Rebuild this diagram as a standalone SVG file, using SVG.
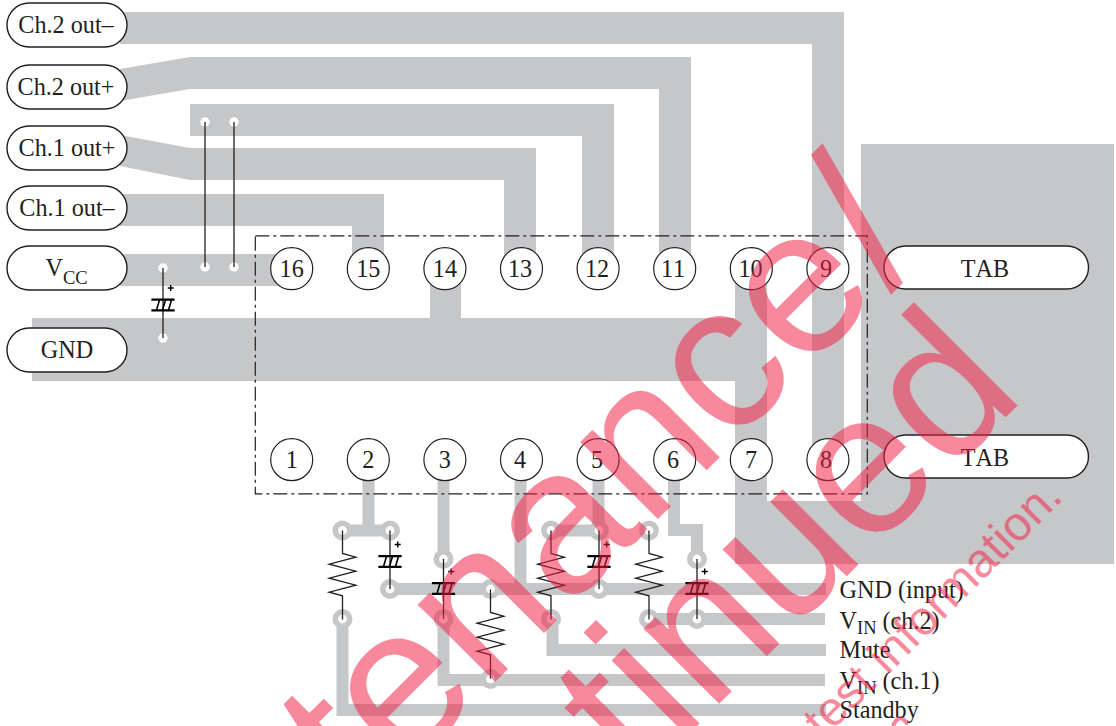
<svg xmlns="http://www.w3.org/2000/svg" width="1116" height="726" viewBox="0 0 1116 726">
<style>
.t{font-family:"Liberation Serif","Times New Roman",serif;font-size:24.2px;fill:#231f20;font-kerning:none}
.m{text-anchor:middle}
.s{font-size:18.5px}
.tr{fill:#c6c7c9;stroke:none}
.w{fill:none;stroke:#c6c7c9;stroke-width:12}
.pad{fill:#fff;stroke:#c6c7c9;stroke-width:5.6}
.h{fill:#fff}
.l{fill:none;stroke:#231f20;stroke-width:1.3}
.pl{fill:#fff;stroke:#231f20;stroke-width:1.4}
.pin{fill:#fff;stroke:#231f20;stroke-width:1.2}
.wm{font-family:"Liberation Sans",Arial,sans-serif;fill:#f21e45;text-anchor:end}
</style>
<defs>
<g id="res"><path class="l" d="M0 0V23L13.300 26.700L-13.300 33.700L13.300 40.700L-13.300 47.700L13.300 54.700L-13.300 61.700L0 65.300V89"/></g>
<g id="cap"><path d="M-11.600-5.300H11.600M-11.600 5.300H11.600" fill="none" stroke="#000" stroke-width="2.300"/><path d="M-6.500 5L-3.500-5M-.5 5L2.500-5M5.500 5L8.500-5" fill="none" stroke="#000" stroke-width="1.600"/><path d="M4.700-17H10.700M7.700-20V-14" fill="none" stroke="#000" stroke-width="1.400"/></g>
<circle id="pad" class="pad" r="7.200"/>
</defs>
<g id="connectors">
<path class="tr" d="M120 12H844V460H812V44H120Z"/>
<path class="tr" d="M120 69L190 57H691V269H659V89H190L120 101Z"/>
<path class="tr" d="M190 104H614V269H582V136H190Z"/>
<path class="tr" d="M120 135L190 148H536V269H504V180H190L120 166Z"/>
<path class="tr" d="M120 194H384V269H352V226H120Z"/>
<path class="tr" d="M120 254H292V286H120Z"/>
<path class="tr" d="M32 318H430V269H461V318H735V269H767V501H861V144H1114V564H735V381H32Z"/>
<path class="w" d="M368.500 470V530.500M342.500 530.500H390M443.500 470V559M520.500 470V589M598.500 470V530.500M551 530.500H599M674 470V530H697V559"/>
<path class="w" d="M390 589H826M649 619H825M552.500 619V650H826M443.500 619V680H825M342.500 619V710H826"/>
<use href="#pad" x="342.500" y="530.500"/><use href="#pad" x="390" y="530.500"/><use href="#pad" x="443.500" y="559"/><use href="#pad" x="551" y="530.500"/><use href="#pad" x="599" y="530.500"/><use href="#pad" x="649" y="530.500"/><use href="#pad" x="697" y="559"/>
<use href="#pad" x="390" y="589"/><use href="#pad" x="490.500" y="589"/><use href="#pad" x="599" y="589"/>
<use href="#pad" x="342.500" y="619"/><use href="#pad" x="443.500" y="619"/><use href="#pad" x="551" y="619"/><use href="#pad" x="649" y="619"/><use href="#pad" x="697" y="619"/><use href="#pad" x="490.500" y="679"/>
<g class="h"><circle cx="205" cy="122" r="4.700"/><circle cx="234" cy="122" r="4.700"/><circle cx="205" cy="267" r="4.700"/><circle cx="234" cy="267" r="4.700"/><circle cx="163" cy="268" r="4.700"/><circle cx="163" cy="338" r="4.700"/></g>
<path class="l" d="M205 122V267M234 122V267M163 268V338M390 530.500V589M443.500 559V619M599 530.500V589M697 559V619"/>
<use href="#res" x="342.500" y="530.500"/><use href="#res" x="551" y="530.500"/><use href="#res" x="649" y="530.500"/><use href="#res" x="490.500" y="589.500"/>
<use href="#cap" x="163" y="305"/><use href="#cap" x="390" y="561.500"/><use href="#cap" x="443.500" y="588.500"/><use href="#cap" x="599" y="561.500"/><use href="#cap" x="697" y="588.500"/>
<rect x="255.300" y="235.800" width="612" height="258" fill="none" stroke="#231f20" stroke-width="1.200" stroke-dasharray="14 4 3 4"/>
</g>
<g id="node-ch2-minus"><rect class="pl" x="7" y="3" width="120" height="44" rx="22"/><text class="t m" x="66" y="33">Ch.2 out–</text></g>
<g id="node-ch2-plus"><rect class="pl" x="7" y="65" width="120" height="44" rx="22"/><text class="t m" x="66" y="95">Ch.2 out+</text></g>
<g id="node-ch1-plus"><rect class="pl" x="7" y="126" width="120" height="44" rx="22"/><text class="t m" x="67" y="156">Ch.1 out+</text></g>
<g id="node-ch1-minus"><rect class="pl" x="7" y="186" width="120" height="44" rx="22"/><text class="t m" x="67" y="216">Ch.1 out–</text></g>
<g id="node-vcc"><rect class="pl" x="7" y="246" width="120" height="44" rx="22"/><text class="t" x="45.500" y="276">V<tspan class="s" dy="7.500">CC</tspan></text></g>
<g id="node-gnd"><rect class="pl" x="7" y="328" width="120" height="44" rx="22"/><text class="t m" x="67" y="358">GND</text></g>
<g id="node-tab1"><rect class="pl" x="884" y="246" width="204.500" height="43" rx="21.500"/><text class="t m" x="985" y="277">TAB</text></g>
<g id="node-tab2"><rect class="pl" x="884" y="435" width="204.500" height="43" rx="21.500"/><text class="t m" x="985" y="465.500">TAB</text></g>
<g id="pin-16"><circle class="pin" cx="291.700" cy="268.700" r="21"/><text class="t m" x="291.700" y="277">16</text></g>
<g id="pin-15"><circle class="pin" cx="368.300" cy="268.700" r="21"/><text class="t m" x="368.300" y="277">15</text></g>
<g id="pin-14"><circle class="pin" cx="444.900" cy="268.700" r="21"/><text class="t m" x="444.900" y="277">14</text></g>
<g id="pin-13"><circle class="pin" cx="521.500" cy="268.700" r="21"/><text class="t m" x="520" y="277">13</text></g>
<g id="pin-12"><circle class="pin" cx="598.100" cy="268.700" r="21"/><text class="t m" x="597" y="277">12</text></g>
<g id="pin-11"><circle class="pin" cx="674.700" cy="268.700" r="21"/><text class="t m" x="673" y="277">11</text></g>
<g id="pin-10"><circle class="pin" cx="751.300" cy="268.700" r="21"/><text class="t m" x="750.500" y="277">10</text></g>
<g id="pin-9"><circle class="pin" cx="827.900" cy="268.700" r="21"/><text class="t m" x="826" y="277">9</text></g>
<g id="pin-1"><circle class="pin" cx="291.700" cy="459.700" r="21"/><text class="t m" x="291.700" y="468">1</text></g>
<g id="pin-2"><circle class="pin" cx="368.300" cy="459.700" r="21"/><text class="t m" x="368.300" y="468">2</text></g>
<g id="pin-3"><circle class="pin" cx="444.900" cy="459.700" r="21"/><text class="t m" x="444.900" y="468">3</text></g>
<g id="pin-4"><circle class="pin" cx="521.500" cy="459.700" r="21"/><text class="t m" x="520" y="468">4</text></g>
<g id="pin-5"><circle class="pin" cx="598.100" cy="459.700" r="21"/><text class="t m" x="597" y="468">5</text></g>
<g id="pin-6"><circle class="pin" cx="674.700" cy="459.700" r="21"/><text class="t m" x="673" y="468">6</text></g>
<g id="pin-7"><circle class="pin" cx="751.300" cy="459.700" r="21"/><text class="t m" x="751" y="468">7</text></g>
<g id="pin-8"><circle class="pin" cx="827.900" cy="459.700" r="21"/><text class="t m" x="826" y="468">8</text></g>
<g id="labels">
<text class="t" x="839.500" y="598">GND (input)</text>
<text class="t" x="839.500" y="629">V<tspan class="s" dy="5">IN</tspan><tspan dy="-5"> (ch.2)</tspan></text>
<text class="t" x="839.500" y="658">Mute</text>
<text class="t" x="839.500" y="689">V<tspan class="s" dy="5">IN</tspan><tspan dy="-5"> (ch.1)</tspan></text>
<text class="t" x="839.500" y="718">Standby</text>
</g>
<g id="watermark" opacity=".52">
<text class="wm" font-size="207" transform="translate(928.200 248.800) rotate(-45)">tenance<tspan font-size="212" dx="4" dy="4.200">/</tspan></text>
<text class="wm" font-size="202" transform="translate(1027 396) rotate(-45)">tinued</text>
<text class="wm" font-size="48" transform="translate(1064.500 498.500) rotate(-45)">test information.</text>
<path d="M893 726Q897 716 903 719L908 724" fill="none" stroke="#f21e45" stroke-width="4"/>
</g>
</svg>
